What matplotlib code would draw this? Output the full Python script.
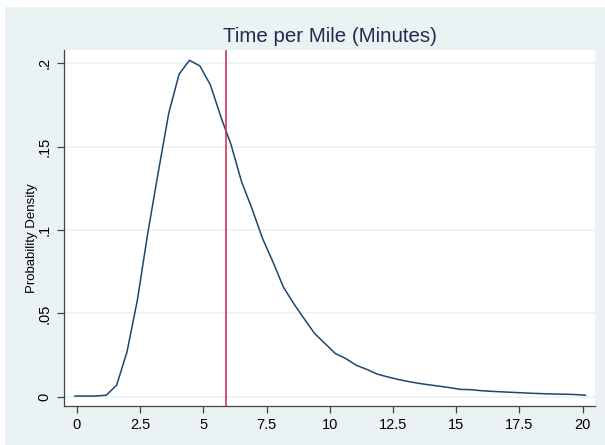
import matplotlib
matplotlib.use("Agg")
import matplotlib.pyplot as plt
from matplotlib.patches import Rectangle

plt.rcParams['font.family'] = ['Liberation Sans', 'DejaVu Sans']

# kernel density estimate (50 evaluation points)
minutes = [-0.08, 0.33, 0.74, 1.16, 1.57, 1.98, 2.39, 2.80, 3.22, 3.63,
           4.04, 4.45, 4.86, 5.28, 5.69, 6.10, 6.51, 6.92, 7.34, 7.75,
           8.16, 8.57, 8.98, 9.40, 9.81, 10.22, 10.63, 11.04, 11.46, 11.87,
           12.28, 12.69, 13.10, 13.52, 13.93, 14.34, 14.75, 15.16, 15.58, 15.99,
           16.40, 16.81, 17.22, 17.64, 18.05, 18.46, 18.87, 19.28, 19.70, 20.11]
density = [0.0005, 0.0005, 0.0005, 0.001, 0.007, 0.027, 0.058, 0.098, 0.135, 0.170,
           0.1935, 0.2018, 0.1985, 0.187, 0.168, 0.151, 0.129, 0.113, 0.095, 0.081,
           0.066, 0.056, 0.047, 0.038, 0.032, 0.026, 0.023, 0.019, 0.0165, 0.0137,
           0.012, 0.0105, 0.0092, 0.0081, 0.0072, 0.0064, 0.0055, 0.0045, 0.0043, 0.0037,
           0.0033, 0.003, 0.0027, 0.0024, 0.0021, 0.0019, 0.0017, 0.0016, 0.0014, 0.0010]
mean_time = 5.9

xticks = [0, 2.5, 5, 7.5, 10, 12.5, 15, 17.5, 20]
xticklabels = ['0', '2.5', '5', '7.5', '10', '12.5', '15', '17.5', '20']
yticks = [0, 0.05, 0.1, 0.15, 0.2]
yticklabels = ['0', '.05', '.1', '.15', '.2']

bg = '#eaf2f3'
navy = '#1a476f'
axis_col = '#444444'

fig = plt.figure(figsize=(6.05, 4.45), dpi=100, facecolor='white')
fig.patches.append(Rectangle((5 / 605, 0), 1, (445 - 7) / 445,
                             transform=fig.transFigure, facecolor=bg,
                             edgecolor='none', zorder=-10))

ax = fig.add_axes([64.3 / 605, (445 - 405.7) / 445,
                   (595 - 64.3) / 605, (405.7 - 50) / 445])
ax.set_zorder(1)
ax.set_facecolor('white')

ax.plot(minutes, density, color=navy, lw=1.1, zorder=3)
ax.axvline(mean_time, color='#d0355a', lw=1.2, zorder=4)

ax.set_xlim(-0.5, 20.49)
ax.set_ylim(-0.0053, 0.208)
ax.set_xticks(xticks)
ax.set_xticklabels(xticklabels)
ax.set_yticks(yticks)
ax.set_yticklabels(yticklabels, rotation=90, va='center')
ax.yaxis.grid(True, color=bg, lw=1.2)
ax.set_axisbelow(True)

for s in ['top', 'right']:
    ax.spines[s].set_visible(False)
for s in ['left', 'bottom']:
    ax.spines[s].set_color(axis_col)
    ax.spines[s].set_linewidth(0.9)
ax.tick_params(axis='both', direction='out', length=5, width=0.9,
               color=axis_col, labelsize=10.5, labelcolor='black', pad=4)

ax.set_ylabel('Probability Density', fontsize=9.5, labelpad=0)
ax.yaxis.label.set_y(0.47)
ax.set_title('Time per Mile (Minutes)', fontsize=14.8, color='#1f2d4e', pad=6)

fig.savefig('out.png', dpi=100, facecolor='white')
